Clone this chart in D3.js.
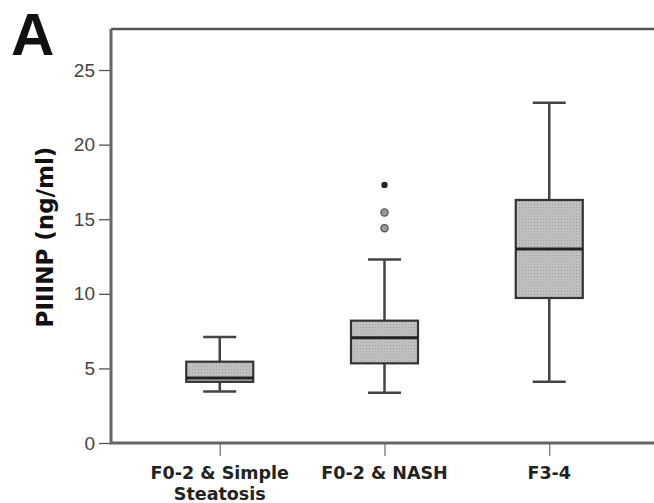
<!DOCTYPE html>
<html>
<head>
<meta charset="utf-8">
<script src="https://cdn.jsdelivr.net/npm/d3@7"></script>
<style>
  html, body { margin: 0; padding: 0; background: #fff; overflow: hidden; }
  svg { display: block; }
</style>
</head>
<body>
<svg id="chart" width="654" height="503"></svg>
<script>
// Groups along the x axis
const categories = ["F0-2 & Simple Steatosis", "F0-2 & NASH", "F3-4"];
const categoryLines = [["F0-2 & Simple", "Steatosis"], ["F0-2 & NASH"], ["F3-4"]];

// Box statistics per group (ng/ml)
const whiskerLow  = [3.45, 3.37, 4.1];
const quartile1   = [4.1, 5.34, 9.72];
const medians     = [4.36, 7.06, 13.0];
const quartile3   = [5.45, 8.2, 16.29];
const whiskerHigh = [7.1, 12.3, 22.8];

// Outlying values (group index, value, kind)
const outlierGroup = [1, 1, 1];
const outlierValue = [17.3, 15.45, 14.4];
const outlierKind  = ["extreme", "outlier", "outlier"];

const yTicks = [0, 5, 10, 15, 20, 25];
const yMax = 27.75;

const svg = d3.select("#chart");

// The plot frame runs past the right edge of the canvas
const plot = { left: 111, top: 29, bottom: 443, right: 700 };

const x = d3.scalePoint()
  .domain(categories)
  .range([plot.left, 658])
  .padding(0.66);

const y = d3.scaleLinear()
  .domain([0, yMax])
  .range([plot.bottom, plot.top]);

// Stippled grey fill for the boxes
const defs = svg.append("defs");
const pat = defs.append("pattern")
  .attr("id", "stipple")
  .attr("width", 3).attr("height", 3)
  .attr("patternUnits", "userSpaceOnUse");
pat.append("rect").attr("width", 3).attr("height", 3).attr("fill", "#c4c4c4");
pat.append("rect").attr("x", 0).attr("y", 0).attr("width", 1).attr("height", 1).attr("fill", "#9a9a9a");
pat.append("rect").attr("x", 1.5).attr("y", 1.5).attr("width", 1).attr("height", 1).attr("fill", "#a8a8a8");

// Panel letter
svg.append("text")
  .attr("x", 11).attr("y", 55)
  .attr("font-family", "Liberation Sans, Arial, sans-serif")
  .attr("font-weight", "bold")
  .attr("font-size", 60)
  .attr("fill", "#111")
  .text("A");

// Frame top edge
svg.append("path")
  .attr("d", `M${plot.left},${plot.top}H${plot.right}`)
  .attr("fill", "none")
  .attr("stroke", "#555")
  .attr("stroke-width", 2.5);

// Y axis
const yAxis = svg.append("g")
  .attr("transform", `translate(${plot.left},0)`)
  .call(d3.axisLeft(y).tickValues(yTicks).tickSize(12).tickPadding(4));
yAxis.select(".domain").remove();
yAxis.selectAll(".tick line").attr("stroke", "#555").attr("stroke-width", 1.3);
yAxis.selectAll(".tick text")
  .attr("font-family", "Liberation Sans, Arial, sans-serif")
  .attr("font-size", 19)
  .attr("fill", "#444");

// X axis
const xAxis = svg.append("g")
  .attr("transform", `translate(0,${plot.bottom})`)
  .call(d3.axisBottom(x).tickSize(13).tickFormat(""));
xAxis.select(".domain").remove();
xAxis.selectAll(".tick line").attr("stroke", "#777").attr("stroke-width", 1.3);

// Category labels, split over lines
categories.forEach((c, i) => {
  const t = svg.append("text")
    .attr("x", x(c))
    .attr("y", 479)
    .attr("text-anchor", "middle")
    .attr("font-family", "DejaVu Sans, sans-serif")
    .attr("font-weight", "bold")
    .attr("font-size", 17.5)
    .attr("fill", "#222");
  categoryLines[i].forEach((line, k) => {
    t.append("tspan").attr("x", x(c)).attr("dy", k === 0 ? 0 : 21).text(line);
  });
});

// Axis lines (left and bottom)
svg.append("path")
  .attr("d", `M${plot.left},${plot.top}V${plot.bottom}H${plot.right}`)
  .attr("fill", "none")
  .attr("stroke", "#666")
  .attr("stroke-width", 3);

// Y axis title
svg.append("text")
  .attr("transform", `translate(53,237) rotate(-90)`)
  .attr("text-anchor", "middle")
  .attr("font-family", "DejaVu Sans, sans-serif")
  .attr("font-weight", "bold")
  .attr("font-size", 23)
  .attr("fill", "#111")
  .text("PIIINP (ng/ml)");

// Boxes
const boxW = 67, capW = 33;
const boxes = svg.append("g");
categories.forEach((c, i) => {
  const cx = x(c);
  const g = boxes.append("g");
  // whisker stems
  g.append("line")
    .attr("x1", cx).attr("x2", cx)
    .attr("y1", y(whiskerHigh[i])).attr("y2", y(quartile3[i]))
    .attr("stroke", "#444").attr("stroke-width", 2.5);
  g.append("line")
    .attr("x1", cx).attr("x2", cx)
    .attr("y1", y(quartile1[i])).attr("y2", y(whiskerLow[i]))
    .attr("stroke", "#444").attr("stroke-width", 2.5);
  // caps
  [whiskerHigh[i], whiskerLow[i]].forEach(v => {
    g.append("line")
      .attr("x1", cx - capW / 2).attr("x2", cx + capW / 2)
      .attr("y1", y(v)).attr("y2", y(v))
      .attr("stroke", "#444").attr("stroke-width", 2.5);
  });
  // box
  g.append("rect")
    .attr("x", cx - boxW / 2)
    .attr("y", y(quartile3[i]))
    .attr("width", boxW)
    .attr("height", y(quartile1[i]) - y(quartile3[i]))
    .attr("fill", "url(#stipple)")
    .attr("stroke", "#333")
    .attr("stroke-width", 2.2);
  // median
  g.append("line")
    .attr("x1", cx - boxW / 2).attr("x2", cx + boxW / 2)
    .attr("y1", y(medians[i])).attr("y2", y(medians[i]))
    .attr("stroke", "#222").attr("stroke-width", 3);
});

// Outliers
outlierValue.forEach((v, k) => {
  const cx = x(categories[outlierGroup[k]]);
  if (outlierKind[k] === "extreme") {
    svg.append("circle")
      .attr("cx", cx).attr("cy", y(v)).attr("r", 3.2)
      .attr("fill", "#222");
  } else {
    svg.append("circle")
      .attr("cx", cx).attr("cy", y(v)).attr("r", 3.6)
      .attr("fill", "#999")
      .attr("stroke", "#555")
      .attr("stroke-width", 1.3);
  }
});
</script>
</body>
</html>
